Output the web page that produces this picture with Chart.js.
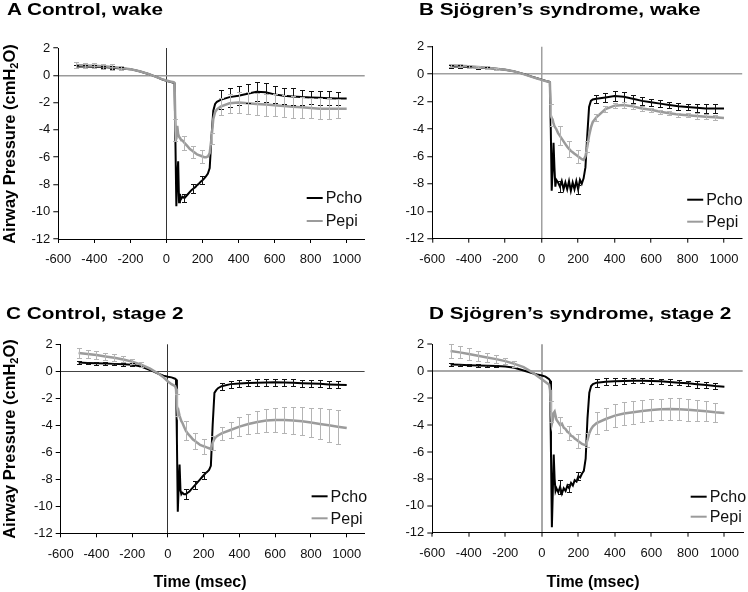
<!DOCTYPE html>
<html>
<head>
<meta charset="utf-8">
<script src="https://cdn.jsdelivr.net/npm/chart.js@4.4.1/dist/chart.umd.min.js"></script>
<style>
body { margin: 0; background: #fff; width: 748px; height: 592px; position: relative; overflow: hidden; font-family: Arial, "Liberation Sans", sans-serif; color: #000; }
canvas { position: absolute; }
.ttl { position: absolute; font-weight: bold; font-size: 17px; line-height: 17px; white-space: nowrap; transform: scaleX(1.22); transform-origin: 0 0; }
.ytl { position: absolute; width: 240px; height: 18px; line-height: 18px; text-align: center; font-weight: bold; font-size: 16.5px; transform: rotate(-90deg); white-space: nowrap; }
.ytl sub { font-size: 11px; line-height: 0; vertical-align: -3px; }
.xtl { position: absolute; width: 200px; text-align: center; font-weight: bold; font-size: 16px; line-height: 16px; }
</style>
</head>
<body>
<canvas id="cA" width="374" height="296" style="left:0;top:0"></canvas>
<canvas id="cB" width="374" height="296" style="left:374px;top:0"></canvas>
<canvas id="cC" width="374" height="296" style="left:0;top:296px"></canvas>
<canvas id="cD" width="374" height="296" style="left:374px;top:296px"></canvas>

<div class="ttl" style="left:7px;top:1px">A Control, wake</div>
<div class="ttl" style="left:419px;top:1px">B Sjögren’s syndrome, wake</div>
<div class="ttl" style="left:6px;top:305px">C Control, stage 2</div>
<div class="ttl" style="left:429px;top:305px">D Sjögren’s syndrome, stage 2</div>

<div class="ytl" style="left:-111.5px;top:135px">Airway Pressure (cmH<sub>2</sub>O)</div>
<div class="ytl" style="left:-111.5px;top:430px">Airway Pressure (cmH<sub>2</sub>O)</div>

<div class="xtl" style="left:100px;top:574px">Time (msec)</div>
<div class="xtl" style="left:493px;top:574px">Time (msec)</div>

<script>
// time base (ms) shared by all traces
const T = [-500,-450,-400,-350,-300,-250,-200,-150,-100,-50,
    -25,0,20,40,
    45,50,55,60,65,70,75,80,
    90,100,110,120,130,140,150,160,170,180,190,200,210,220,230,240,250,260,270,280,
    300,350,400,450,500,550,600,650,700,750,800,850,900,950,1000];

// times where error bars are drawn
const ERR_T = [-500,-450,-400,-350,-300,-250,-200,-150,50,100,150,200,250,
    300,350,400,450,500,550,600,650,700,750,800,850,900,950];

const X_TICKS = [-600,-400,-200,0,200,400,600,800,1000];
const Y_TICKS = [-12,-10,-8,-6,-4,-2,0,2];

// A Control, wake
const aPcho = [0.65,0.65,0.62,0.6,0.55,0.5,0.45,0.3,0.1,-0.15,
    -0.3,-0.4,-0.48,-0.55,
    -0.6,-5.0,-9.6,-7.5,-6.3,-9.3,-8.7,-9.1,
    -8.9,-9.0,-8.85,-8.7,-8.55,-8.4,-8.3,-8.2,-8.05,-7.95,-7.8,-7.7,-7.55,-7.4,-7.2,-6.8,-4.5,-2.6,-2.1,-1.95,
    -1.8,-1.6,-1.5,-1.35,-1.2,-1.25,-1.4,-1.5,-1.55,-1.6,-1.62,-1.65,-1.68,-1.7,-1.7];
const aPepi = [0.75,0.72,0.7,0.66,0.6,0.53,0.45,0.3,0.1,-0.15,
    -0.28,-0.38,-0.45,-0.5,
    -0.55,-4.0,-4.7,-3.7,-4.3,-4.5,-4.6,-4.7,
    -4.8,-4.95,-5.1,-5.25,-5.4,-5.5,-5.6,-5.7,-5.8,-5.85,-5.9,-5.95,-6.0,-6.0,-5.95,-5.7,-4.6,-3.2,-2.7,-2.5,
    -2.3,-2.05,-2.0,-2.05,-2.1,-2.15,-2.2,-2.25,-2.3,-2.35,-2.4,-2.45,-2.45,-2.45,-2.45];
const aPchoErr = [0.1,0.1,0.1,0.1,0.1,0.1,null,null,null,0.3,0.3,0.3,null,
    0.7,0.7,0.7,0.7,0.7,0.7,0.6,0.6,0.6,0.55,0.5,0.5,0.5,0.5];
const aPepiErr = [0.2,0.2,0.2,0.2,0.2,0.15,null,null,0.8,0.5,0.45,0.45,0.4,
    0.6,0.7,0.75,0.8,0.8,0.8,0.8,0.8,0.8,0.75,0.75,0.75,0.75,0.7];

// B Sjögren's syndrome, wake
const bPcho = [0.55,0.55,0.52,0.48,0.44,0.4,0.32,0.2,0.02,-0.2,
    -0.3,-0.4,-0.48,-0.55,
    -0.6,-4.0,-8.5,-7.0,-5.0,-6.8,-8.2,-7.7,
    -7.9,-8.2,-7.8,-8.4,-7.9,-8.4,-7.8,-8.5,-7.9,-8.4,-7.8,-8.4,-7.7,-8.0,-7.6,-6.8,-4.5,-2.4,-1.95,-1.85,
    -1.8,-1.7,-1.6,-1.65,-1.8,-1.95,-2.05,-2.15,-2.25,-2.35,-2.4,-2.45,-2.5,-2.5,-2.5];
const bPepi = [0.65,0.62,0.58,0.52,0.46,0.4,0.32,0.2,0.0,-0.22,
    -0.32,-0.42,-0.5,-0.55,
    -0.6,-3.0,-3.2,-3.3,-3.6,-3.8,-3.9,-4.0,
    -4.3,-4.5,-4.7,-4.9,-5.1,-5.3,-5.45,-5.6,-5.7,-5.8,-5.9,-6.0,-6.1,-6.2,-6.25,-6.0,-5.3,-4.5,-3.9,-3.5,
    -3.15,-2.55,-2.3,-2.25,-2.35,-2.5,-2.6,-2.75,-2.85,-2.95,-3.0,-3.05,-3.1,-3.15,-3.2];
const bPchoErr = [0.08,0.08,0.08,0.08,0.08,0.08,null,null,null,0.4,null,0.35,null,
    0.3,0.35,0.35,0.35,0.3,0.3,0.25,0.25,0.25,0.25,0.25,0.3,0.3,0.3];
const bPepiErr = [0.1,0.1,0.1,0.1,0.1,0.08,null,null,0.8,0.7,0.6,0.45,0.4,
    0.25,0.2,0.2,0.2,0.2,0.2,0.15,0.15,0.15,0.15,0.15,0.2,0.2,0.2];

// C Control, stage 2
const cPcho = [0.65,0.62,0.6,0.57,0.55,0.52,0.48,0.35,0.1,-0.2,
    -0.32,-0.4,-0.45,-0.55,
    -0.6,-5.0,-10.4,-8.5,-6.9,-8.8,-9.1,-9.0,
    -9.1,-9.1,-9.0,-8.9,-8.75,-8.6,-8.45,-8.3,-8.15,-8.0,-7.85,-7.7,-7.55,-7.45,-7.3,-7.0,-4.0,-1.6,-1.4,-1.25,
    -1.1,-0.95,-0.9,-0.87,-0.85,-0.83,-0.82,-0.83,-0.85,-0.88,-0.9,-0.93,-0.97,-1.0,-1.02];
const cPepi = [1.35,1.28,1.2,1.1,1.0,0.88,0.72,0.5,0.2,-0.2,
    -0.45,-0.75,-0.95,-1.1,
    -1.3,-2.5,-3.2,-3.0,-3.3,-3.5,-3.7,-3.8,
    -4.1,-4.4,-4.6,-4.75,-4.9,-5.05,-5.15,-5.25,-5.35,-5.45,-5.5,-5.55,-5.6,-5.65,-5.7,-5.75,-5.3,-5.0,-4.85,-4.75,
    -4.6,-4.35,-4.1,-3.9,-3.75,-3.65,-3.6,-3.6,-3.65,-3.7,-3.8,-3.9,-4.0,-4.1,-4.2];
const cPchoErr = [0.1,0.1,0.1,0.1,0.1,0.1,0.1,null,null,0.35,0.3,0.25,null,
    0.25,0.25,0.25,0.25,0.25,0.25,0.25,0.25,0.25,0.25,0.25,0.25,0.25,0.25];
const cPepiErr = [0.35,0.33,0.3,0.28,0.25,0.22,0.2,0.18,0.8,0.7,0.6,0.55,0.5,
    0.5,0.6,0.7,0.75,0.8,0.85,0.9,0.95,1.0,1.05,1.1,1.15,1.2,1.25];

// D Sjögren's syndrome, stage 2
const dPcho = [0.5,0.48,0.45,0.42,0.4,0.38,0.35,0.25,0.05,-0.15,
    -0.25,-0.32,-0.4,-0.6,
    -0.7,-6.0,-11.6,-9.0,-6.2,-8.0,-8.9,-8.7,
    -9.0,-8.6,-9.1,-8.7,-8.9,-8.5,-8.7,-8.3,-8.5,-8.1,-8.2,-7.8,-7.9,-7.6,-7.4,-6.5,-3.5,-1.6,-1.1,-0.95,
    -0.85,-0.78,-0.75,-0.72,-0.7,-0.7,-0.72,-0.75,-0.8,-0.85,-0.9,-0.97,-1.03,-1.1,-1.15];
const dPepi = [1.5,1.4,1.28,1.15,1.02,0.9,0.75,0.55,0.3,-0.1,
    -0.35,-0.6,-0.8,-1.0,
    -1.4,-3.0,-3.9,-3.6,-3.1,-3.0,-3.3,-3.6,
    -3.8,-4.0,-3.9,-4.2,-4.3,-4.5,-4.6,-4.8,-4.85,-5.0,-5.1,-5.2,-5.3,-5.4,-5.45,-5.5,-5.1,-4.6,-4.3,-4.1,
    -3.85,-3.55,-3.3,-3.15,-3.05,-2.95,-2.88,-2.83,-2.8,-2.82,-2.87,-2.92,-2.98,-3.05,-3.1];
const dPchoErr = [0.08,0.08,0.08,0.08,0.08,0.08,null,null,null,0.5,0.3,0.3,null,
    0.3,0.25,0.25,0.25,0.2,0.2,0.2,0.2,0.2,0.2,0.2,0.25,0.25,0.25];
const dPepiErr = [0.5,0.45,0.42,0.38,0.34,0.3,0.25,0.2,0.8,0.6,0.5,0.5,0.5,
    0.8,0.85,0.85,0.85,0.85,0.8,0.8,0.8,0.8,0.8,0.8,0.75,0.75,0.7];

Chart.defaults.font.family = 'Arial, "Liberation Sans", sans-serif';
Chart.defaults.color = '#111';

// error bars with small caps
const errorBars = {
    id: 'errorBars',
    afterDatasetsDraw(chart) {
        const ctx = chart.ctx;
        const xs = chart.scales.x, ys = chart.scales.y;
        chart.data.datasets.forEach(ds => {
            if (!ds.errors) return;
            ctx.save();
            ctx.strokeStyle = ds.errColor;
            ctx.lineWidth = 1;
            ERR_T.forEach((t, i) => {
                const e = ds.errors[i];
                if (e == null) return;
                const p = ds.data.find(d => d.x === t);
                if (!p) return;
                const px = Math.round(xs.getPixelForValue(t)) + 0.5;
                const y1 = Math.round(ys.getPixelForValue(p.y + e)) + 0.5;
                const y2 = Math.round(ys.getPixelForValue(p.y - e)) + 0.5;
                ctx.beginPath();
                ctx.moveTo(px, y1); ctx.lineTo(px, y2);
                ctx.moveTo(px - 2.5, y1); ctx.lineTo(px + 2.5, y1);
                ctx.moveTo(px - 2.5, y2); ctx.lineTo(px + 2.5, y2);
                ctx.stroke();
            });
            ctx.restore();
        });
    }
};

// legend drawn inside the plot, lower right
const innerLegend = {
    id: 'innerLegend',
    afterDraw(chart, args, opts) {
        const ctx = chart.ctx;
        const a = chart.chartArea;
        const x0 = a.right + opts.dx;
        const ys = [a.bottom + opts.y1, a.bottom + opts.y2];
        ctx.save();
        ctx.font = '16px Arial, "Liberation Sans", sans-serif';
        ctx.textBaseline = 'middle';
        chart.data.datasets.forEach((ds, i) => {
            ctx.strokeStyle = ds.borderColor;
            ctx.lineWidth = 2;
            ctx.beginPath();
            ctx.moveTo(x0, ys[i]);
            ctx.lineTo(x0 + 16, ys[i]);
            ctx.stroke();
            ctx.fillStyle = '#111';
            ctx.fillText(ds.label, x0 + 19, ys[i] + 1);
        });
        ctx.restore();
    }
};

function pts(vals) {
    return T.map((t, i) => ({ x: t, y: vals[i] }));
}

function makePanel(id, pcho, pepi, pchoErr, pepiErr, st) {
    new Chart(document.getElementById(id), {
        type: 'line',
        data: {
            datasets: [
                {
                    label: 'Pcho',
                    data: pts(pcho),
                    borderColor: '#000',
                    borderWidth: 2,
                    pointRadius: 0,
                    tension: 0,
                    order: 1,
                    errors: pchoErr,
                    errColor: '#111'
                },
                {
                    label: 'Pepi',
                    data: pts(pepi),
                    borderColor: '#9b9b9b',
                    borderWidth: 2.5,
                    pointRadius: 0,
                    tension: 0,
                    order: 0,
                    errors: pepiErr,
                    errColor: '#b4b4b4'
                }
            ]
        },
        options: {
            responsive: false,
            animation: false,
            devicePixelRatio: 1,
            layout: { padding: { top: st.top, right: st.right, left: 0, bottom: 0 } },
            plugins: {
                legend: { display: false },
                tooltip: { enabled: false },
                innerLegend: st.leg
            },
            scales: {
                x: {
                    type: 'linear',
                    min: -600,
                    max: 1100,
                    afterBuildTicks: s => { s.ticks = X_TICKS.map(v => ({ value: v })); },
                    afterFit: s => { s.height = 296 - st.bottom; },
                    ticks: {
                        maxRotation: 0,
                        autoSkip: false,
                        padding: 9,
                        font: { size: 13 },
                        color: '#111',
                        callback: v => String(v)
                    },
                    grid: {
                        color: c => (c.tick && c.tick.value === 0) ? st.vColor : 'rgba(0,0,0,0)',
                        lineWidth: st.vWidth,
                        tickColor: '#000',
                        tickLength: 4,
                        tickWidth: 1
                    },
                    border: { display: true, color: '#000', width: 1 }
                },
                y: {
                    min: -12,
                    max: 2,
                    afterBuildTicks: s => { s.ticks = Y_TICKS.map(v => ({ value: v })); },
                    afterFit: s => { s.width = st.left; },
                    ticks: {
                        padding: 3,
                        font: { size: 13 },
                        color: '#111',
                        callback: v => String(v)
                    },
                    grid: {
                        color: c => (c.tick && c.tick.value === 0) ? st.hColor : 'rgba(0,0,0,0)',
                        lineWidth: st.hWidth,
                        tickColor: '#000',
                        tickLength: 5,
                        tickWidth: 1
                    },
                    border: { display: true, color: '#000', width: 1 }
                }
            }
        },
        plugins: [errorBars, innerLegend]
    });
}

makePanel('cA', aPcho, aPepi, aPchoErr, aPepiErr, {
    top: 48, right: 9.3, left: 58.3, bottom: 239,
    hColor: '#9a9a9a', hWidth: 1.5, vColor: '#333', vWidth: 1,
    leg: { dx: -58, y1: -41, y2: -18 }
});
makePanel('cB', bPcho, bPepi, bPchoErr, bPepiErr, {
    top: 46.7, right: 5.8, left: 58.3, bottom: 238.7,
    hColor: '#a0a0a0', hWidth: 1.5, vColor: '#a0a0a0', vWidth: 1.5,
    leg: { dx: -55, y1: -39, y2: -17 }
});
makePanel('cC', cPcho, cPepi, cPchoErr, cPepiErr, {
    top: 48.3, right: 9.4, left: 60.7, bottom: 237.3,
    hColor: '#444', hWidth: 1, vColor: '#333', vWidth: 1,
    leg: { dx: -53, y1: -37, y2: -15 }
});
makePanel('cD', dPcho, dPepi, dPchoErr, dPepiErr, {
    top: 48.3, right: 2.2, left: 58.3, bottom: 236.7,
    hColor: '#a8a8a8', hWidth: 2, vColor: '#a8a8a8', vWidth: 2,
    leg: { dx: -52, y1: -36, y2: -16 }
});
</script>
</body>
</html>
